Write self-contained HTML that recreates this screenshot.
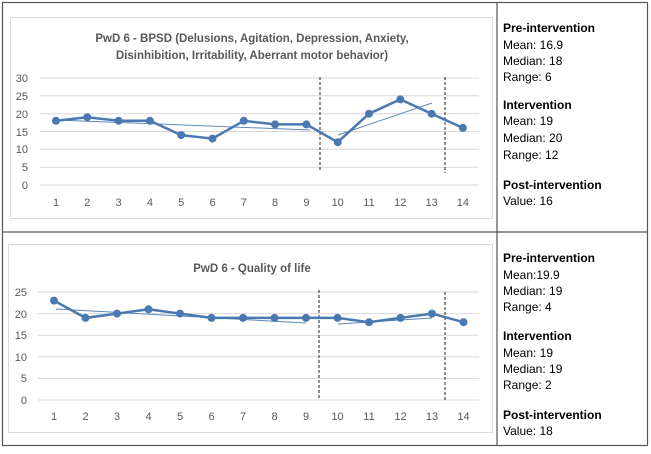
<!DOCTYPE html>
<html><head><meta charset="utf-8"><style>
body{margin:0;background:#fff;width:651px;height:449px;overflow:hidden}
svg text{font-family:"Liberation Sans",sans-serif}
</style></head><body>
<svg width="651" height="449" viewBox="0 0 651 449">
<rect x="2.5" y="2.5" width="645" height="443" fill="#fff" stroke="#555" stroke-width="1.2"/>
<line x1="497" y1="2.5" x2="497" y2="445.5" stroke="#555" stroke-width="1.2"/>
<line x1="2.5" y1="232" x2="647.5" y2="232" stroke="#555" stroke-width="1.2"/>
<!-- chart 1 -->
<rect x="10.5" y="17.5" width="482" height="201" fill="#fff" stroke="#d9d9d9"/>
<text x="252" y="42" font-size="11.5" font-weight="bold" fill="#595959" text-anchor="middle">PwD 6 - BPSD (Delusions, Agitation, Depression, Anxiety,</text>
<text x="252" y="59" font-size="11.5" font-weight="bold" fill="#595959" text-anchor="middle">Disinhibition, Irritability, Aberrant motor behavior)</text>
<g stroke="#d9d9d9" stroke-width="1">
<line x1="40" x2="479" y1="78" y2="78"/><line x1="40" x2="479" y1="95.8" y2="95.8"/><line x1="40" x2="479" y1="113.7" y2="113.7"/><line x1="40" x2="479" y1="131.5" y2="131.5"/><line x1="40" x2="479" y1="149.3" y2="149.3"/><line x1="40" x2="479" y1="167.2" y2="167.2"/><line x1="40" x2="479" y1="185" y2="185"/>
</g>
<g font-size="11" fill="#595959" text-anchor="end">
<text x="28" y="82">30</text><text x="28" y="100">25</text><text x="28" y="118">20</text><text x="28" y="136">15</text><text x="28" y="153">10</text><text x="28" y="171">5</text><text x="28" y="189">0</text>
</g>
<g font-size="11" fill="#595959" text-anchor="middle">
<text x="56" y="206">1</text><text x="87.3" y="206">2</text><text x="118.6" y="206">3</text><text x="149.9" y="206">4</text><text x="181.2" y="206">5</text><text x="212.5" y="206">6</text><text x="243.8" y="206">7</text><text x="275.1" y="206">8</text><text x="306.4" y="206">9</text><text x="337.7" y="206">10</text><text x="369" y="206">11</text><text x="400.3" y="206">12</text><text x="431.6" y="206">13</text><text x="462.9" y="206">14</text>
</g>
<line x1="320" y1="77" x2="320" y2="171" stroke="#222" stroke-dasharray="3,2"/>
<line x1="445" y1="77" x2="445" y2="173" stroke="#222" stroke-dasharray="3,2"/>
<line x1="56" y1="120" x2="310" y2="130" stroke="#5b87bd" stroke-width="1"/>
<line x1="338" y1="135" x2="432" y2="103" stroke="#5b87bd" stroke-width="1"/>
<polyline fill="none" stroke="#4a78b0" stroke-width="2.5" points="56,120.8 87.3,117.2 118.6,120.8 149.9,120.8 181.2,135.1 212.5,138.6 243.8,120.8 275.1,124.4 306.4,124.4 337.7,142.2 369,113.7 400.3,99.4 431.6,113.7 462.9,127.9"/>
<g fill="#4a78b0">
<circle cx="56" cy="120.8" r="4"/><circle cx="87.3" cy="117.2" r="4"/><circle cx="118.6" cy="120.8" r="4"/><circle cx="149.9" cy="120.8" r="4"/><circle cx="181.2" cy="135.1" r="4"/><circle cx="212.5" cy="138.6" r="4"/><circle cx="243.8" cy="120.8" r="4"/><circle cx="275.1" cy="124.4" r="4"/><circle cx="306.4" cy="124.4" r="4"/><circle cx="337.7" cy="142.2" r="4"/><circle cx="369" cy="113.7" r="4"/><circle cx="400.3" cy="99.4" r="4"/><circle cx="431.6" cy="113.7" r="4"/><circle cx="462.9" cy="127.9" r="4"/>
</g>
<!-- chart 2 -->
<rect x="8.5" y="244.5" width="484" height="188" fill="#fff" stroke="#d9d9d9"/>
<text x="252" y="272" font-size="11.5" font-weight="bold" fill="#595959" text-anchor="middle">PwD 6 - Quality of life</text>
<g stroke="#d9d9d9" stroke-width="1">
<line x1="38" x2="479" y1="292" y2="292"/><line x1="38" x2="479" y1="313.6" y2="313.6"/><line x1="38" x2="479" y1="335.2" y2="335.2"/><line x1="38" x2="479" y1="356.8" y2="356.8"/><line x1="38" x2="479" y1="378.4" y2="378.4"/><line x1="38" x2="479" y1="400" y2="400"/>
</g>
<g font-size="11" fill="#595959" text-anchor="end">
<text x="27" y="296">25</text><text x="27" y="318">20</text><text x="27" y="339">15</text><text x="27" y="361">10</text><text x="27" y="382">5</text><text x="27" y="404">0</text>
</g>
<g font-size="11" fill="#595959" text-anchor="middle">
<text x="54" y="420">1</text><text x="85.5" y="420">2</text><text x="117" y="420">3</text><text x="148.5" y="420">4</text><text x="180" y="420">5</text><text x="211.5" y="420">6</text><text x="243" y="420">7</text><text x="274.5" y="420">8</text><text x="306" y="420">9</text><text x="337.5" y="420">10</text><text x="369" y="420">11</text><text x="400.5" y="420">12</text><text x="432" y="420">13</text><text x="463.5" y="420">14</text>
</g>
<line x1="319" y1="290" x2="319" y2="400" stroke="#222" stroke-dasharray="3,2"/>
<line x1="445" y1="292" x2="445" y2="402" stroke="#222" stroke-dasharray="3,2"/>
<line x1="56" y1="309" x2="306" y2="323" stroke="#5b87bd" stroke-width="1"/>
<line x1="338" y1="324" x2="432" y2="318" stroke="#5b87bd" stroke-width="1"/>
<polyline fill="none" stroke="#4a78b0" stroke-width="2.5" points="54,300.6 85.5,317.9 117,313.6 148.5,309.3 180,313.6 211.5,317.9 243,317.9 274.5,317.9 306,317.9 337.5,317.9 369,322.2 400.5,317.9 432,313.6 463.5,322.2"/>
<g fill="#4a78b0">
<circle cx="54" cy="300.6" r="4"/><circle cx="85.5" cy="317.9" r="4"/><circle cx="117" cy="313.6" r="4"/><circle cx="148.5" cy="309.3" r="4"/><circle cx="180" cy="313.6" r="4"/><circle cx="211.5" cy="317.9" r="4"/><circle cx="243" cy="317.9" r="4"/><circle cx="274.5" cy="317.9" r="4"/><circle cx="306" cy="317.9" r="4"/><circle cx="337.5" cy="317.9" r="4"/><circle cx="369" cy="322.2" r="4"/><circle cx="400.5" cy="317.9" r="4"/><circle cx="432" cy="313.6" r="4"/><circle cx="463.5" cy="322.2" r="4"/>
</g>
<!-- right text -->
<g font-size="12" fill="#000">
<text x="503" y="32" font-weight="bold">Pre-intervention</text>
<text x="503" y="49">Mean: 16.9</text>
<text x="503" y="65">Median: 18</text>
<text x="503" y="81">Range: 6</text>
<text x="503" y="109" font-weight="bold">Intervention</text>
<text x="503" y="125">Mean: 19</text>
<text x="503" y="142">Median: 20</text>
<text x="503" y="159">Range: 12</text>
<text x="503" y="189" font-weight="bold">Post-intervention</text>
<text x="503" y="205">Value: 16</text>
<text x="503" y="262" font-weight="bold">Pre-intervention</text>
<text x="503" y="279">Mean:19.9</text>
<text x="503" y="295">Median: 19</text>
<text x="503" y="311">Range: 4</text>
<text x="503" y="340" font-weight="bold">Intervention</text>
<text x="503" y="357">Mean: 19</text>
<text x="503" y="373">Median: 19</text>
<text x="503" y="389">Range: 2</text>
<text x="503" y="419" font-weight="bold">Post-intervention</text>
<text x="503" y="435">Value: 18</text>
</g>
</svg>
</body></html>
